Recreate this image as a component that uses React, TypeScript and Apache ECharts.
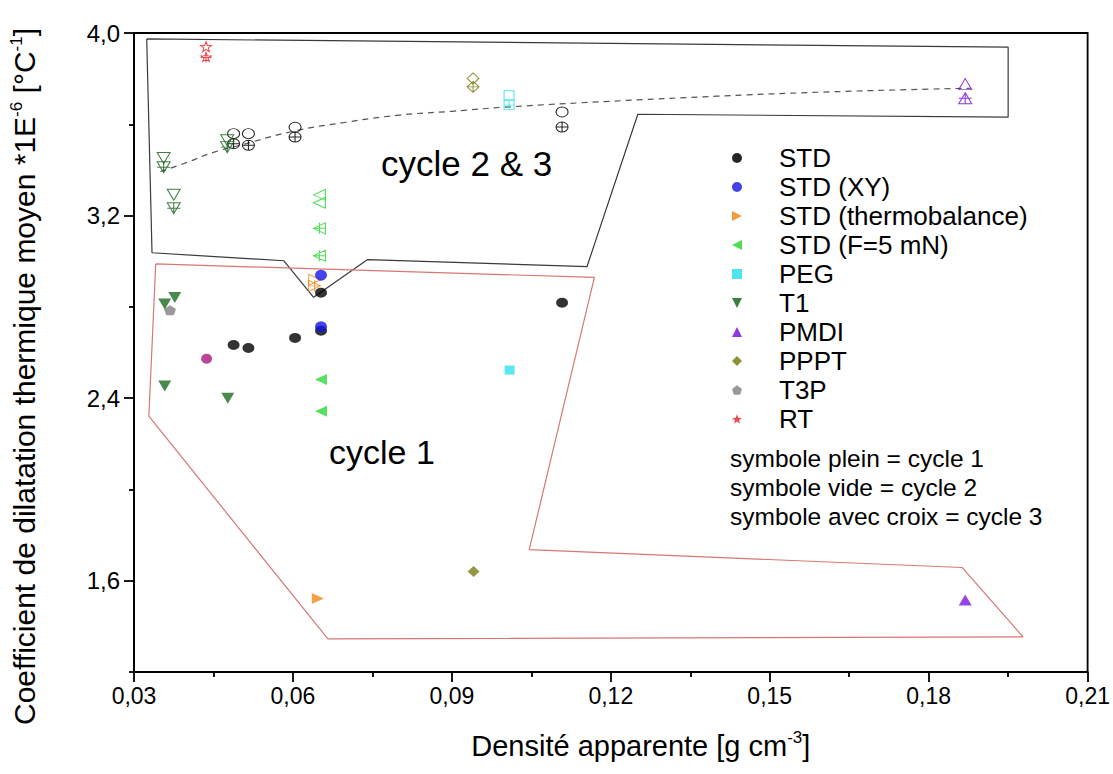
import React, { useEffect, useRef } from "react";
import * as echarts from "echarts";

// ---------- data ----------
const X_MIN = 0.03;
const X_MAX = 0.21;
const Y_MIN = 1.2;
const Y_MAX = 4.0;
const Y_LABEL_TICKS = [1.6, 2.4, 3.2, 4.0];
const Y_MINOR_TICKS = [1.2, 2.0, 2.8, 3.6];

const GROUPS = ["STD", "STD (XY)", "STD (thermobalance)", "STD (F=5 mN)", "PEG", "T1", "PMDI", "PPPT", "T3P", "RT"];

// cycle 1 (filled symbols)
const STD_C1 = [[0.0488, 2.633], [0.0516, 2.62], [0.0604, 2.664], [0.0653, 2.695], [0.0653, 2.862], [0.1108, 2.818]];
const STDXY_C1 = [[0.0653, 2.713], [0.0653, 2.939]];
const THERMO_C1 = [[0.0647, 1.522]];
const F5_C1 = [[0.0653, 2.482], [0.0653, 2.343]];
const PEG_C1 = [[0.1009, 2.523]];
const T1_C1 = [[0.0377, 2.841], [0.0358, 2.812], [0.0358, 2.453], [0.0477, 2.399]];
const PMDI_C1 = [[0.1869, 1.515]];
const PPPT_C1 = [[0.0941, 1.64]];
const T3P_C1 = [[0.0368, 2.785]];
const RT_C1 = [[0.0437, 2.573]];

// cycle 2 (open symbols)
const STD_C2 = [[0.0488, 3.559], [0.0516, 3.559], [0.0604, 3.587], [0.1108, 3.654]];
const THERMO_C2 = [[0.0641, 2.919]];
const F5_C2 = [[0.065, 3.291], [0.065, 3.256]];
const PEG_C2 = [[0.1008, 3.727]];
const T1_C2 = [[0.0356, 3.452], [0.0375, 3.291], [0.0476, 3.53]];
const PMDI_C2 = [[0.1869, 3.776]];
const PPPT_C2 = [[0.094, 3.801]];
const RT_C2 = [[0.0436, 3.94]];

// cycle 3 (symbols with cross)
const STD_C3 = [[0.0488, 3.515], [0.0516, 3.508], [0.0604, 3.544], [0.1108, 3.588]];
const THERMO_C3 = [[0.0641, 2.892]];
const F5_C3 = [[0.065, 3.144], [0.065, 3.024]];
const PEG_C3 = [[0.1008, 3.684]];
const T1_C3 = [[0.0356, 3.412], [0.0375, 3.232], [0.0476, 3.5]];
const PMDI_C3 = [[0.1869, 3.714]];
const PPPT_C3 = [[0.094, 3.764]];
const RT_C3 = [[0.0436, 3.893]];

// dashed trend curve (cycles 2 & 3)
const TREND = [[0.035, 3.393], [0.04, 3.433], [0.045, 3.477], [0.05, 3.508], [0.06, 3.569], [0.07, 3.609], [0.08, 3.64], [0.09, 3.657], [0.1, 3.675], [0.12, 3.701], [0.14, 3.723], [0.16, 3.741], [0.18, 3.754], [0.188, 3.758]];

// region outlines
const REGION_23 = [[0.0324, 3.974], [0.195, 3.938], [0.195, 3.631], [0.1251, 3.644], [0.1155, 2.976], [0.0741, 3.007], [0.0639, 2.842], [0.0583, 3.002], [0.0334, 3.037], [0.0324, 3.974]];
const REGION_1 = [[0.0341, 2.988], [0.1169, 2.929], [0.1046, 1.736], [0.1863, 1.658], [0.1978, 1.354], [0.0666, 1.345], [0.0328, 2.321], [0.0341, 2.988]];

const NOTES = ["symbole plein = cycle 1", "symbole vide = cycle 2", "symbole avec croix = cycle 3"];

// ---------- styling ----------
const FONT = "'Liberation Sans', Arial, sans-serif";

const CROSS = "M5,0L5,10M0,5L10,5";
const SHAPES: Record<string, string> = {
  circle: "M0,5A5 5 0 1 1 10,5A5 5 0 1 1 0,5Z",
  triUp: "M5,0L10,10L0,10Z",
  triDown: "M0,0L10,0L5,10Z",
  triLeft: "M0,5L10,0L10,10Z",
  triRight: "M10,5L0,0L0,10Z",
  square: "M0,0L10,0L10,10L0,10Z",
  diamond: "M5,0L10,5L5,10L0,5Z",
  pentagon: "M5,0L9.755,3.455L7.939,9.045L2.061,9.045L0.245,3.455Z",
  star: "M5,0L6.176,3.382L9.755,3.455L6.902,5.618L7.939,9.045L5,7L2.061,9.045L3.098,5.618L0.245,3.455L3.824,3.382Z",
};

const STYLE: Record<string, { color: string; shape: string; size: number[] }> = {
  "STD": { color: "#000000", shape: "circle", size: [12, 10] },
  "STD (XY)": { color: "#1414e6", shape: "circle", size: [12, 11] },
  "STD (thermobalance)": { color: "#f08a1c", shape: "triRight", size: [12, 11] },
  "STD (F=5 mN)": { color: "#2ed838", shape: "triLeft", size: [12, 11] },
  "PEG": { color: "#2fe2ea", shape: "square", size: [10, 9] },
  "T1": { color: "#1d6a20", shape: "triDown", size: [13, 11] },
  "PMDI": { color: "#7a16e0", shape: "triUp", size: [13, 11] },
  "PPPT": { color: "#7b7d14", shape: "diamond", size: [12, 11] },
  "T3P": { color: "#7f7f7f", shape: "pentagon", size: [12, 10] },
  "RT": { color: "#e8282e", shape: "star", size: [11, 10] },
};

const C1: Record<string, number[][]> = {
  "STD": STD_C1, "STD (XY)": STDXY_C1, "STD (thermobalance)": THERMO_C1, "STD (F=5 mN)": F5_C1,
  "PEG": PEG_C1, "T1": T1_C1, "PMDI": PMDI_C1, "PPPT": PPPT_C1, "T3P": T3P_C1, "RT": RT_C1,
};
const C2: Record<string, number[][]> = {
  "STD": STD_C2, "STD (thermobalance)": THERMO_C2, "STD (F=5 mN)": F5_C2, "PEG": PEG_C2,
  "T1": T1_C2, "PMDI": PMDI_C2, "PPPT": PPPT_C2, "RT": RT_C2,
};
const C3: Record<string, number[][]> = {
  "STD": STD_C3, "STD (thermobalance)": THERMO_C3, "STD (F=5 mN)": F5_C3, "PEG": PEG_C3,
  "T1": T1_C3, "PMDI": PMDI_C3, "PPPT": PPPT_C3, "RT": RT_C3,
};

function buildSeries() {
  const series: any[] = [
    {
      type: "line", name: "region 2&3", data: REGION_23, symbol: "none", silent: true, z: 1,
      lineStyle: { color: "#3a3a3a", width: 1.2 },
    },
    {
      type: "line", name: "region 1", data: REGION_1, symbol: "none", silent: true, z: 1,
      lineStyle: { color: "#d77772", width: 1.2 },
    },
    {
      type: "line", name: "trend", data: TREND, symbol: "none", smooth: true, silent: true, z: 1,
      lineStyle: { color: "#555555", width: 1.2, type: [6, 5] },
    },
  ];
  GROUPS.forEach((g) => {
    const st = STYLE[g];
    const d = SHAPES[st.shape];
    if (C2[g]) {
      series.push({
        type: "scatter", name: g, data: C2[g], symbol: "path://" + d, symbolSize: [st.size[0], st.size[1]], z: 3,
        itemStyle: { color: "transparent", borderColor: st.color, borderWidth: 1, opacity: 0.85 },
      });
    }
    if (C3[g]) {
      series.push({
        type: "scatter", name: g, data: C3[g], symbol: "path://" + d + CROSS, symbolSize: [st.size[0], st.size[1]], z: 3,
        itemStyle: { color: "transparent", borderColor: st.color, borderWidth: 1, opacity: 0.85 },
      });
    }
    const filled: any = {
      type: "scatter", name: g, data: C1[g], symbol: "path://" + d, symbolSize: st.size, z: 4,
      itemStyle: { color: st.color },
    };
    if (g === "RT") {
      filled.symbol = "path://" + SHAPES.circle;
      filled.symbolSize = [11, 10];
      filled.itemStyle = { color: "#a8197a" };
    }
    series.push(filled);
  });
  return series;
}

export default function App() {
  const ref = useRef<HTMLDivElement>(null);
  useEffect(() => {
    if (!ref.current) return;
    const chart = echarts.init(ref.current, null, { renderer: "svg" });
    const fmtY = (v: number) => v.toFixed(1).replace(".", ",");
    const fmtX = (v: number) => v.toFixed(2).replace(".", ",");
    const option: any = {
      animation: false,
      backgroundColor: "#ffffff",
      textStyle: { fontFamily: FONT },
      grid: { left: 130, right: 23, top: 33, bottom: 102, show: true, borderColor: "#000", borderWidth: 1.8, backgroundColor: "transparent" },
      xAxis: {
        type: "value", min: X_MIN, max: X_MAX, interval: 0.03,
        name: "Densité apparente [g cm{sup|-3}]",
        nameLocation: "middle", nameGap: 57,
        nameTextStyle: {
          fontSize: 29, fontFamily: FONT, color: "#000", padding: [0, 0, 0, 60],
          rich: { sup: { fontSize: 17, fontFamily: FONT, padding: [0, 0, 16, 0], color: "#000" } },
        },
        axisLine: { lineStyle: { color: "#000", width: 1.8 } },
        axisTick: { length: 10, lineStyle: { color: "#000", width: 1.8 } },
        minorTick: { show: true, splitNumber: 2, length: 5, lineStyle: { color: "#000", width: 1.8 } },
        splitLine: { show: false },
        axisLabel: { formatter: fmtX, fontSize: 23, color: "#000", margin: 12, fontFamily: FONT },
      },
      yAxis: [
        {
          type: "value", min: Y_MIN, max: Y_MAX,
          name: "Coefficient de dilatation thermique moyen *1E{sup|-6} [°C{sup|-1}]",
          nameLocation: "middle", nameRotate: 90, nameGap: 93,
          nameTextStyle: {
            fontSize: 30, fontFamily: FONT, color: "#000", padding: [0, 48, 0, 0],
            rich: { sup: { fontSize: 17, fontFamily: FONT, padding: [0, 0, 16, 0], color: "#000" } },
          },
          axisLine: { lineStyle: { color: "#000", width: 1.8 } },
          axisTick: { length: 10, customValues: Y_LABEL_TICKS, lineStyle: { color: "#000", width: 1.8 } },
          axisLabel: { customValues: Y_LABEL_TICKS, formatter: fmtY, fontSize: 24, color: "#000", margin: 14 },
          splitLine: { show: false },
        },
        {
          type: "value", min: Y_MIN, max: Y_MAX, position: "left",
          axisLine: { show: false },
          axisTick: { show: true, length: 5, customValues: Y_MINOR_TICKS, lineStyle: { color: "#000", width: 1.8 } },
          axisLabel: { show: false },
          splitLine: { show: false },
        },
      ],
      legend: {
        orient: "vertical", left: 732, top: 145, padding: 0,
        itemWidth: 10, itemHeight: 10, itemGap: 3, selectedMode: false,
        textStyle: { fontSize: 26, color: "#000", fontFamily: FONT, lineHeight: 26, padding: [0, 0, 0, 32] },
        data: GROUPS.map((g) => ({
          name: g,
          icon: "path://" + SHAPES[STYLE[g].shape],
          itemStyle: { color: STYLE[g].color, borderWidth: 0 },
        })),
      },
      graphic: [
        { type: "text", x: 381, y: 163, style: { text: "cycle 2 & 3", fontSize: 35, fontFamily: FONT, fill: "#000", verticalAlign: "middle" } },
        { type: "text", x: 329, y: 452, style: { text: "cycle 1", fontSize: 34, fontFamily: FONT, fill: "#000", verticalAlign: "middle" } },
        ...NOTES.map((t, i) => ({
          type: "text", x: 730, y: 458 + i * 29,
          style: { text: t, fontSize: 24.5, fontFamily: FONT, fill: "#000", verticalAlign: "middle" },
        })),
      ],
      series: buildSeries(),
    };
    chart.setOption(option);
    return () => chart.dispose();
  }, []);
  return <div ref={ref} style={{ position: "fixed", left: 0, top: 0, width: 1113, height: 774 }} />;
}
